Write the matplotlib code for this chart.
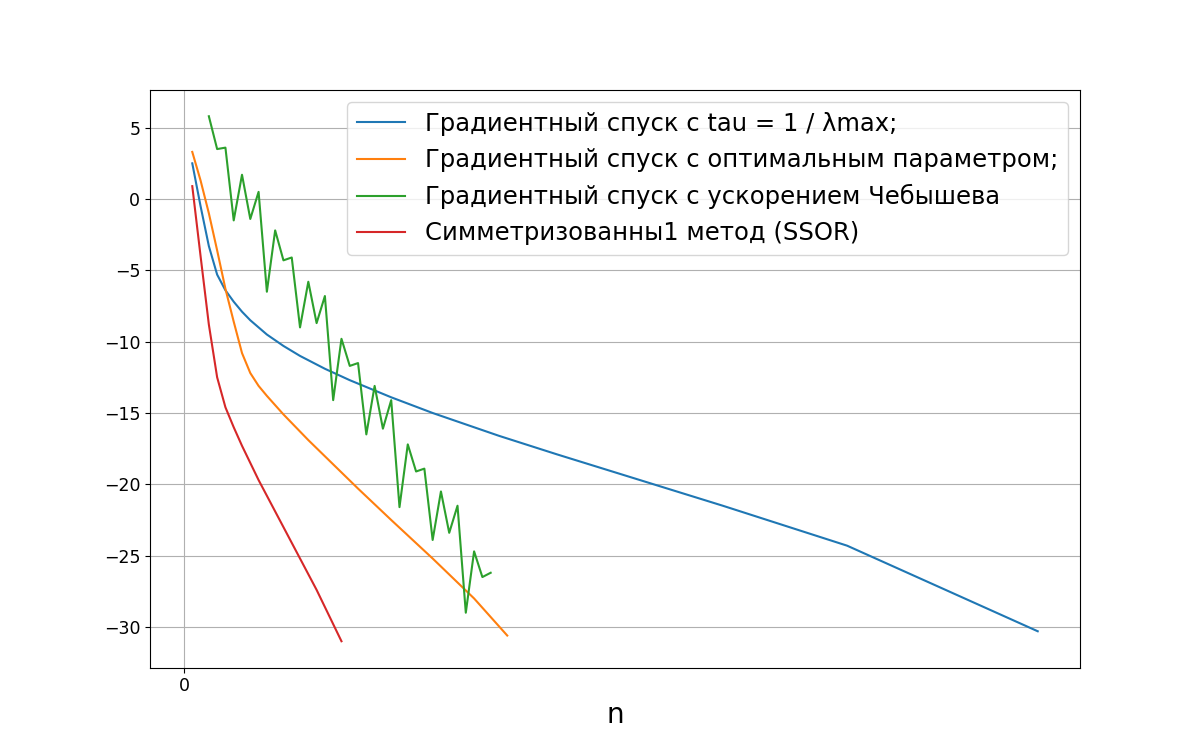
import numpy as np
import matplotlib.pyplot as plt

# значения
x_grad = [1, 2, 3, 4, 5, 6, 7, 8, 9, 10, 12, 14, 17, 20, 25, 30, 38, 45, 55, 65, 80, 103]
y_grad = [2.5, -0.5, -3.3, -5.3, -6.4, -7.2, -7.9, -8.5, -9.0, -9.5, -10.3, -11.0, -11.9, -12.7, -13.9, -15.0, -16.6, -17.9, -19.7, -21.5, -24.3, -30.3]

x_opt = [1, 2, 3, 4, 5, 6, 7, 8, 9, 10, 12, 15, 18, 21, 25, 30, 35, 39]
y_opt = [3.3, 1.3, -1.0, -3.6, -6.3, -8.6, -10.8, -12.2, -13.1, -13.8, -15.1, -16.9, -18.6, -20.3, -22.5, -25.2, -28.0, -30.6]

x_cheb = list(range(3, 38))
y_cheb = [5.8, 3.5, 3.6, -1.5, 1.7, -1.4, 0.5, -6.5, -2.2, -4.3, -4.1, -9.0, -5.8, -8.7, -6.8,
          -14.1, -9.8, -11.7, -11.5, -16.5, -13.1, -16.1, -14.1, -21.6, -17.2, -19.1, -18.9,
          -23.9, -20.5, -23.4, -21.5, -29.0, -24.7, -26.5, -26.2]

x_ssor = [1, 2, 3, 4, 5, 6, 7, 8, 9, 10, 11, 12, 13, 14, 15, 16, 17, 18, 19]
y_ssor = [0.9, -4.0, -8.8, -12.5, -14.6, -16.0, -17.3, -18.5, -19.7, -20.8, -21.9, -23.0, -24.1, -25.2, -26.3, -27.4, -28.6, -29.8, -31.0]

fig = plt.figure(figsize=(12, 7.5), dpi=100)
plt.plot(x_grad, y_grad, label="Градиентный спуск с tau = 1 / λmax;")
plt.plot(x_opt, y_opt, label="Градиентный спуск с оптимальным параметром;")
plt.plot(x_cheb, y_cheb, label="Градиентный спуск с ускорением Чебышева")
plt.plot(x_ssor, y_ssor, label="Симметризованны1 метод (SSOR)")
plt.xticks([0])
plt.tick_params(labelsize=12.5)
plt.grid()
plt.xlabel("n", fontsize=20)
plt.legend(fontsize=17.5, loc="upper right")
plt.savefig("out.png")
